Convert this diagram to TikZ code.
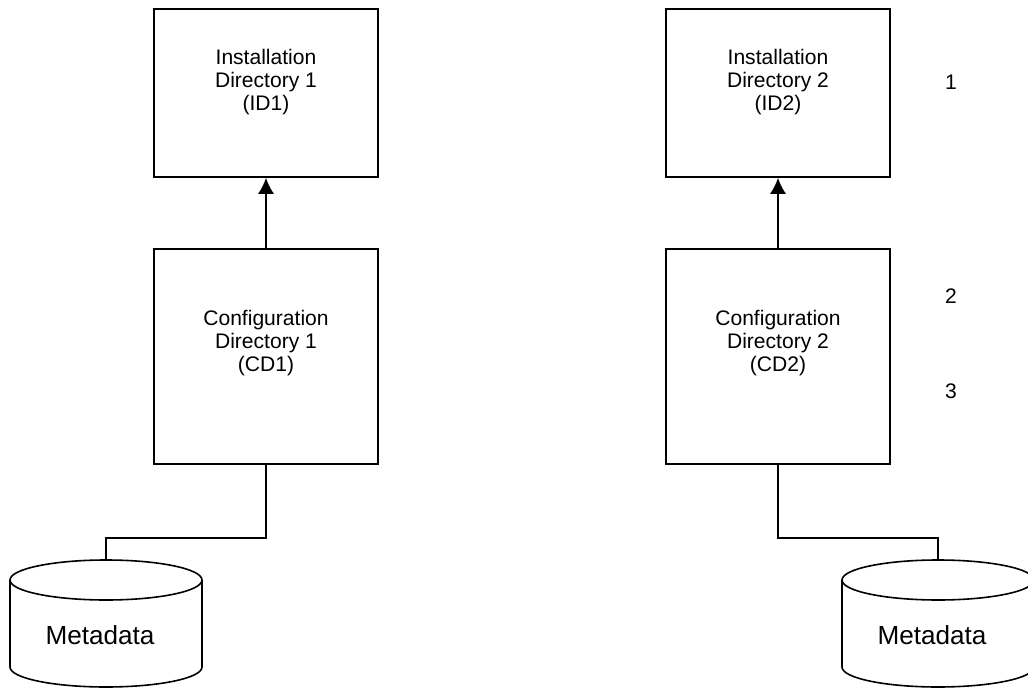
\documentclass[tikz,border=0pt]{standalone}
\usepackage{fontspec}
\setmainfont{Liberation Sans}
\usepackage{tikz}
\usetikzlibrary{calc,arrows.meta}

\tikzset{
	dirbox/.style={draw, minimum width=168pt, inner sep=0pt},
	dirtext/.style={align=center, font=\fontsize{15.8}{17.3}\selectfont},
	dbtext/.style={font=\fontsize{19.6}{22}\selectfont},
}

\begin{document}
\begin{tikzpicture}[x=0.75pt,y=-0.75pt,line width=1.2pt]
		\useasboundingbox (0,0) rectangle (1028,688);
		
		\foreach \n/\xm/\xd in {1/266/106, 2/778/938}{
			%installation directory
			\node[dirbox, minimum height=126pt] (id\n) at (\xm,93) {};
			\node[dirtext] (idt\n) at (\xm,82) {Installation\\Directory \n\\(ID\n)};
			%configuration directory
			\node[dirbox, minimum height=161.25pt] (cd\n) at (\xm,356.5) {};
			\node[dirtext] (cdt\n) at (\xm,343) {Configuration\\Directory \n\\(CD\n)};
			\draw[-{Latex[length=12pt,width=12pt]}] (cd\n.north) -- (id\n.south);
			
			%metadata
			\coordinate (db\n) at (\xd,560);
			\draw (\xd,580) ellipse[x radius=96, y radius=20];
			\draw (\xd-96,580) -- (\xd-96,667) arc[x radius=96, y radius=20, start angle=180, end angle=0] -- (\xd+96,580);
			\node[dbtext] (dbt\n) at (\xd-6,635) {Metadata};
			\draw (cd\n.south) -- ++(0,73) -| (db\n);
		}
		
		%numbers
		\node[dirtext] (n1) at (951,82) {1};
		\node[dirtext] (n2) at (951,296) {2};
		\node[dirtext] (n3) at (951,391) {3};
		
\end{tikzpicture}
\end{document}
